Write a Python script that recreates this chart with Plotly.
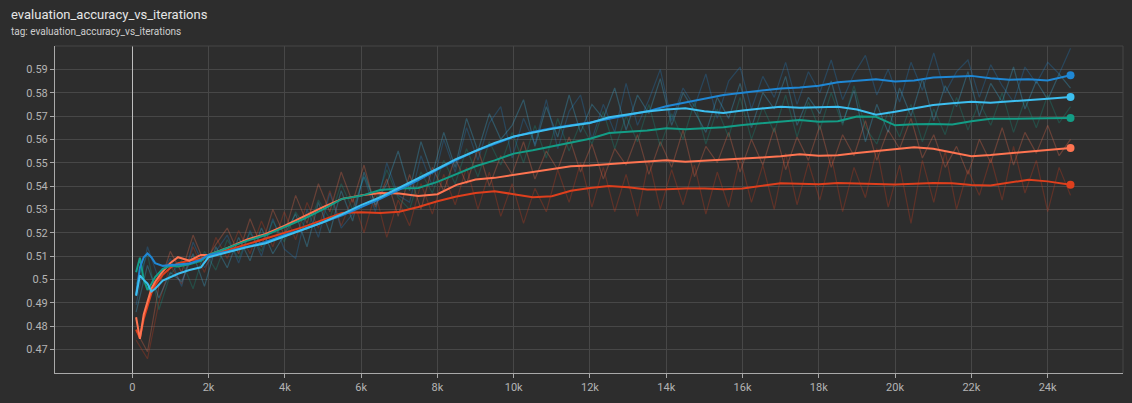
import numpy as np
import plotly.graph_objects as go

# ---- smoothed curves (iterations / accuracy) ----
steps_smooth = [100, 200, 300, 400, 500, 600, 800, 1000, 1200, 1500, 1800, 2000,
                2500, 3000, 3500, 4000, 4500, 5000, 5500, 6000, 6500, 7000, 7500,
                8000, 8500, 9000, 9500, 10000, 10500, 11000, 11500, 12000, 12500,
                13000, 13500, 14000, 14500, 15000, 15500, 16000, 16500, 17000,
                17500, 18000, 18500, 19000, 19500, 20000, 20500, 21000, 21500,
                22000, 22500, 23000, 23500, 24000, 24600]

red_smooth = [0.4785, 0.4750, 0.4830, 0.4890, 0.4940, 0.4975, 0.5020, 0.5050, 0.5070,
              0.5080, 0.5090, 0.5100, 0.5125, 0.5150, 0.5175, 0.5200, 0.5225, 0.5255,
              0.5285, 0.5288, 0.5284, 0.5290, 0.5310, 0.5335, 0.5355, 0.5370, 0.5378,
              0.5365, 0.5352, 0.5356, 0.5380, 0.5392, 0.5400, 0.5395, 0.5385, 0.5386,
              0.5390, 0.5390, 0.5386, 0.5390, 0.5400, 0.5412, 0.5410, 0.5408, 0.5413,
              0.5412, 0.5410, 0.5407, 0.5410, 0.5413, 0.5412, 0.5405, 0.5402, 0.5415,
              0.5427, 0.5420, 0.5406]

orange_smooth = [0.4838, 0.4745, 0.4850, 0.4910, 0.4960, 0.4990, 0.5035, 0.5070, 0.5095,
                 0.5080, 0.5105, 0.5105, 0.5135, 0.5170, 0.5195, 0.5230, 0.5270, 0.5310,
                 0.5345, 0.5360, 0.5370, 0.5368, 0.5357, 0.5365, 0.5405, 0.5428, 0.5435,
                 0.5448, 0.5462, 0.5475, 0.5485, 0.5488, 0.5495, 0.5500, 0.5505, 0.5511,
                 0.5504, 0.5508, 0.5512, 0.5517, 0.5522, 0.5528, 0.5536, 0.5530, 0.5532,
                 0.5542, 0.5550, 0.5557, 0.5566, 0.5560, 0.5545, 0.5528, 0.5533, 0.5540,
                 0.5545, 0.5552, 0.5563]

teal_smooth = [0.5031, 0.5093, 0.5000, 0.4955, 0.4980, 0.5010, 0.5045, 0.5058, 0.5055,
               0.5065, 0.5080, 0.5105, 0.5135, 0.5165, 0.5190, 0.5225, 0.5260, 0.5300,
               0.5345, 0.5358, 0.5383, 0.5389, 0.5392, 0.5418, 0.5450, 0.5485, 0.5510,
               0.5539, 0.5553, 0.5570, 0.5585, 0.5603, 0.5627, 0.5633, 0.5638, 0.5648,
               0.5643, 0.5648, 0.5652, 0.5662, 0.5670, 0.5678, 0.5683, 0.5675, 0.5678,
               0.5698, 0.5697, 0.5660, 0.5665, 0.5666, 0.5664, 0.5678, 0.5688, 0.5688,
               0.5690, 0.5690, 0.5691]

blue_smooth = [0.4934, 0.5050, 0.5095, 0.5111, 0.5095, 0.5070, 0.5058, 0.5060, 0.5065,
               0.5068, 0.5085, 0.5105, 0.5120, 0.5140, 0.5160, 0.5190, 0.5215, 0.5245,
               0.5275, 0.5310, 0.5345, 0.5385, 0.5425, 0.5470, 0.5512, 0.5550, 0.5582,
               0.5611, 0.5632, 0.5648, 0.5660, 0.5672, 0.5688, 0.5703, 0.5720, 0.5742,
               0.5758, 0.5772, 0.5790, 0.5800, 0.5808, 0.5818, 0.5822, 0.5830, 0.5845,
               0.5852, 0.5858, 0.5848, 0.5852, 0.5865, 0.5868, 0.5872, 0.5862, 0.5855,
               0.5858, 0.5852, 0.5875]

cyan_smooth = [0.4930, 0.5017, 0.4998, 0.4982, 0.4948, 0.4960, 0.4995, 0.5010, 0.5024,
               0.5040, 0.5052, 0.5095, 0.5118, 0.5138, 0.5155, 0.5185, 0.5213, 0.5245,
               0.5280, 0.5318, 0.5352, 0.5392, 0.5432, 0.5474, 0.5516, 0.5552, 0.5585,
               0.5612, 0.5630, 0.5645, 0.5658, 0.5670, 0.5695, 0.5708, 0.5719, 0.5728,
               0.5733, 0.5720, 0.5713, 0.5724, 0.5732, 0.5740, 0.5735, 0.5736, 0.5740,
               0.5728, 0.5706, 0.5718, 0.5733, 0.5747, 0.5755, 0.5761, 0.5757, 0.5762,
               0.5768, 0.5774, 0.5782]

# ---- raw (unsmoothed) evaluations ----
steps_raw = np.linspace(100, 24600, 83)

red_raw = [0.474, 0.466, 0.490, 0.506, 0.498, 0.514, 0.503, 0.518, 0.509, 0.521,
           0.511, 0.525, 0.514, 0.529, 0.517, 0.533, 0.522, 0.538, 0.523, 0.535,
           0.520, 0.537, 0.518, 0.534, 0.523, 0.541, 0.528, 0.545, 0.532, 0.548,
           0.530, 0.546, 0.527, 0.541, 0.524, 0.539, 0.529, 0.547, 0.533, 0.550,
           0.531, 0.548, 0.529, 0.545, 0.527, 0.551, 0.530, 0.547, 0.532, 0.549,
           0.528, 0.546, 0.531, 0.552, 0.533, 0.549, 0.530, 0.554, 0.532, 0.550,
           0.534, 0.553, 0.529, 0.548, 0.535, 0.556, 0.531, 0.549, 0.524, 0.551,
           0.533, 0.555, 0.530, 0.547, 0.536, 0.552, 0.534, 0.557, 0.537, 0.551,
           0.529, 0.548, 0.536]

orange_raw = [0.478, 0.469, 0.497, 0.512, 0.503, 0.519, 0.507, 0.515, 0.522, 0.511,
              0.526, 0.514, 0.530, 0.519, 0.536, 0.524, 0.541, 0.529, 0.546, 0.533,
              0.549, 0.531, 0.543, 0.527, 0.545, 0.530, 0.548, 0.538, 0.552, 0.541,
              0.556, 0.540, 0.553, 0.545, 0.559, 0.543, 0.555, 0.547, 0.561, 0.546,
              0.558, 0.543, 0.556, 0.549, 0.562, 0.545, 0.559, 0.548, 0.564, 0.544,
              0.557, 0.550, 0.563, 0.546, 0.560, 0.549, 0.565, 0.547, 0.561, 0.551,
              0.566, 0.548, 0.562, 0.553, 0.568, 0.551, 0.564, 0.556, 0.569, 0.552,
              0.562, 0.548, 0.557, 0.545, 0.560, 0.550, 0.565, 0.549, 0.563, 0.554,
              0.566, 0.553, 0.560]

teal_raw = [0.498, 0.511, 0.487, 0.502, 0.508, 0.496, 0.512, 0.504, 0.517, 0.509,
            0.520, 0.512, 0.525, 0.516, 0.529, 0.521, 0.534, 0.526, 0.541, 0.530,
            0.544, 0.533, 0.547, 0.535, 0.530, 0.546, 0.537, 0.551, 0.541, 0.556,
            0.544, 0.559, 0.549, 0.563, 0.550, 0.566, 0.552, 0.569, 0.555, 0.567,
            0.558, 0.572, 0.556, 0.570, 0.559, 0.575, 0.557, 0.571, 0.560, 0.576,
            0.558, 0.573, 0.561, 0.578, 0.560, 0.574, 0.563, 0.579, 0.561, 0.576,
            0.564, 0.580, 0.566, 0.583, 0.565, 0.558, 0.572, 0.561, 0.575, 0.559,
            0.573, 0.562, 0.578, 0.564, 0.576, 0.566, 0.580, 0.563, 0.577, 0.565,
            0.579, 0.567, 0.574]

blue_raw = [0.489, 0.514, 0.500, 0.509, 0.497, 0.516, 0.505, 0.512, 0.519, 0.507,
            0.521, 0.510, 0.526, 0.513, 0.509, 0.530, 0.518, 0.537, 0.522, 0.528,
            0.544, 0.529, 0.550, 0.536, 0.533, 0.553, 0.540, 0.560, 0.546, 0.565,
            0.551, 0.567, 0.574, 0.552, 0.569, 0.558, 0.577, 0.556, 0.572, 0.579,
            0.560, 0.575, 0.563, 0.584, 0.566, 0.577, 0.590, 0.568, 0.582, 0.574,
            0.588, 0.569, 0.585, 0.591, 0.573, 0.587, 0.578, 0.593, 0.575, 0.589,
            0.580, 0.594, 0.577, 0.588, 0.596, 0.579, 0.590, 0.576, 0.593, 0.581,
            0.597, 0.580, 0.589, 0.594, 0.578, 0.592, 0.583, 0.576, 0.591, 0.584,
            0.593, 0.588, 0.599]

cyan_raw = [0.486, 0.506, 0.492, 0.503, 0.499, 0.511, 0.497, 0.514, 0.505, 0.518,
            0.508, 0.522, 0.511, 0.519, 0.528, 0.514, 0.533, 0.520, 0.538, 0.525,
            0.546, 0.532, 0.541, 0.555, 0.538, 0.559, 0.545, 0.563, 0.548, 0.569,
            0.555, 0.571, 0.560, 0.566, 0.577, 0.557, 0.574, 0.561, 0.579, 0.563,
            0.575, 0.569, 0.582, 0.564, 0.579, 0.571, 0.586, 0.566, 0.580, 0.572,
            0.563, 0.578, 0.569, 0.584, 0.565, 0.580, 0.573, 0.587, 0.566, 0.578,
            0.571, 0.585, 0.567, 0.581, 0.559, 0.575, 0.563, 0.582, 0.570, 0.586,
            0.568, 0.583, 0.574, 0.589, 0.570, 0.584, 0.576, 0.591, 0.573, 0.585,
            0.577, 0.588, 0.582]

x_tick_vals = [0, 2000, 4000, 6000, 8000, 10000, 12000, 14000, 16000, 18000,
               20000, 22000, 24000]
x_tick_text = ["0", "2k", "4k", "6k", "8k", "10k", "12k", "14k", "16k", "18k",
               "20k", "22k", "24k"]
y_tick_vals = [0.47, 0.48, 0.49, 0.50, 0.51, 0.52, 0.53, 0.54, 0.55, 0.56, 0.57,
               0.58, 0.59]
y_tick_text = ["0.47", "0.48", "0.49", "0.5", "0.51", "0.52", "0.53", "0.54",
               "0.55", "0.56", "0.57", "0.58", "0.59"]

title_text = "evaluation_accuracy_vs_iterations"
subtitle_text = "tag: evaluation_accuracy_vs_iterations"

runs = [
    ("red", red_raw, red_smooth, "#de3f1d"),
    ("orange", orange_raw, orange_smooth, "#ff7451"),
    ("teal", teal_raw, teal_smooth, "#139d86"),
    ("blue", blue_raw, blue_smooth, "#1f87d4"),
    ("cyan", cyan_raw, cyan_smooth, "#3dbff0"),
]

BG = "#2d2d2d"
GRID = "#474747"
AXIS = "#a9a9a9"
TEXT = "#b4b4b4"

fig = go.Figure()

# faint raw traces underneath
for name, raw, _, color in runs:
    fig.add_trace(go.Scatter(
        x=steps_raw, y=raw, mode="lines", name=name + " raw",
        line=dict(color=color, width=1.2), opacity=0.28,
        hoverinfo="skip", showlegend=False,
    ))

# smoothed traces with a dot at the last value
for name, _, smooth, color in runs:
    fig.add_trace(go.Scatter(
        x=steps_smooth, y=smooth, mode="lines", name=name,
        line=dict(color=color, width=2), showlegend=False,
    ))
    fig.add_trace(go.Scatter(
        x=[steps_smooth[-1]], y=[smooth[-1]], mode="markers",
        marker=dict(color=color, size=8), showlegend=False,
    ))

fig.update_layout(
    width=1132, height=403,
    margin=dict(l=55, r=9, t=46, b=21),
    paper_bgcolor=BG, plot_bgcolor=BG,
    font=dict(family="Roboto, 'Noto Sans', sans-serif", color=TEXT, size=11),
    showlegend=False,
)

fig.update_xaxes(
    range=[-2026, 25976],
    tickvals=x_tick_vals, ticktext=x_tick_text,
    showgrid=True, gridcolor=GRID, gridwidth=1,
    zeroline=True, zerolinecolor="#bdbdbd", zerolinewidth=1,
    showline=True, linecolor=AXIS, linewidth=1,
    ticks="outside", ticklen=4, tickcolor=AXIS,
    tickfont=dict(size=11, color=TEXT),
)
fig.update_yaxes(
    range=[0.4599, 0.6000],
    tickvals=y_tick_vals, ticktext=y_tick_text,
    showgrid=True, gridcolor=GRID, gridwidth=1,
    zeroline=False,
    showline=True, linecolor=AXIS, linewidth=1,
    ticks="outside", ticklen=4, tickcolor=AXIS,
    tickfont=dict(size=11, color=TEXT),
)

# frame: faint top and right borders of the plotting area
fig.add_shape(type="line", xref="paper", yref="paper", x0=0, x1=1, y0=1, y1=1,
              line=dict(color=GRID, width=1))
fig.add_shape(type="line", xref="paper", yref="paper", x0=1, x1=1, y0=0, y1=1,
              line=dict(color=GRID, width=1))

# header: run title and tag line
fig.add_annotation(text=title_text, xref="paper", yref="paper",
                   x=-46 / 1068, y=1 + 32 / 336, xanchor="left", yanchor="middle",
                   showarrow=False, font=dict(size=13, color="#e6e6e6"))
fig.add_annotation(text=subtitle_text, xref="paper", yref="paper",
                   x=-46 / 1068, y=1 + 15 / 336, xanchor="left", yanchor="middle",
                   showarrow=False, font=dict(size=10, color="#cdcdcd"))

fig.write_html("out.html")
